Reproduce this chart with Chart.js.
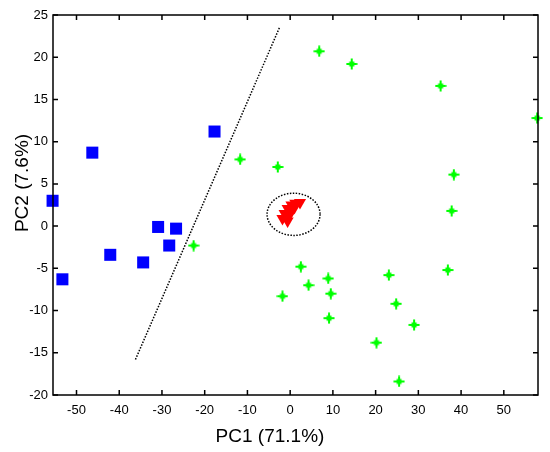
<!DOCTYPE html>
<html>
<head>
<meta charset="utf-8">
<script src="https://cdn.jsdelivr.net/npm/chart.js@4/dist/chart.umd.min.js"></script>
<style>
  html, body { margin: 0; padding: 0; background: #fff; }
  #wrap { width: 550px; height: 452px; }
</style>
</head>
<body>
<div id="wrap"><canvas id="pca"></canvas></div>
<script>
// tick labels
const xTicks = [-50, -40, -30, -20, -10, 0, 10, 20, 30, 40, 50];
const yTicks = [-20, -15, -10, -5, 0, 5, 10, 15, 20, 25];

// group 1 (blue squares)
const blueX = [-55.6, -46.3, -17.7, -53.3, -42.1, -34.4, -30.9, -26.7, -28.3];
const blueY = [3.0, 8.7, 11.2, -6.3, -3.4, -4.3, -0.1, -0.3, -2.3];

// group 2 (green stars)
const greenX = [-11.7, -2.9, -22.6, -1.8, 2.5, 6.8, 14.4, 35.2, 57.8, 38.3, 37.8,
                4.3, 8.9, 9.5, 9.1, 23.1, 24.8, 36.9, 29.0, 20.2, 25.5];
const greenY = [7.9, 7.0, -2.3, -8.3, -4.8, 20.7, 19.2, 16.6, 12.8, 6.1, 1.8,
                -7.0, -6.2, -8.0, -10.9, -5.8, -9.2, -5.2, -11.7, -13.8, -18.4];

// group 3 (red triangles)
const redX = [2.3, 1.2, 0.3, -0.6, -1.3, -1.8, -0.6, 0.4, 1.0, -0.2];
const redY = [2.8, 2.7, 2.5, 2.1, 1.5, 0.9, 0.6, 1.9, 2.2, 1.3];

// separating line
const lineX = [-36.2, -2.5];
const lineY = [-15.8, 23.5];

// circle around red group: centre and half-axes in data units
const ringCenter = [0.8, 1.4];
const ringRadius = [6.2, 2.5];

const toPts = (xs, ys) => xs.map((x, i) => ({ x: x, y: ys[i] }));

// green marker: bold plus with a thick centre
const starMark = document.createElement('canvas');
starMark.width = 12; starMark.height = 12;
(function () {
  const c = starMark.getContext('2d');
  c.fillStyle = '#00ff00';
  c.fillRect(5, 0.5, 2, 11);
  c.fillRect(0.5, 5, 11, 2);
  c.fillRect(3.5, 3.5, 5, 5);
})();

// box with inward ticks on all sides, dotted ellipse and axis titles
const frame = {
  id: 'frame',
  beforeDatasetsDraw(chart) {
    const { ctx, scales } = chart;
    const cx = scales.x.getPixelForValue(ringCenter[0]);
    const cy = scales.y.getPixelForValue(ringCenter[1]);
    const rx = Math.abs(scales.x.getPixelForValue(ringCenter[0] + ringRadius[0]) - cx);
    const ry = Math.abs(scales.y.getPixelForValue(ringCenter[1] + ringRadius[1]) - cy);
    ctx.save();
    ctx.strokeStyle = '#000';
    ctx.lineWidth = 1.5;
    ctx.setLineDash([1.5, 1.5]);
    ctx.beginPath();
    ctx.ellipse(cx, cy, rx, ry, 0, 0, Math.PI * 2);
    ctx.stroke();
    ctx.restore();
  },
  afterDraw(chart) {
    const { ctx, chartArea: a, scales } = chart;
    ctx.save();
    ctx.strokeStyle = '#000';
    ctx.lineWidth = 1.5;
    ctx.strokeRect(a.left, a.top, a.right - a.left, a.bottom - a.top);
    ctx.beginPath();
    xTicks.forEach(v => {
      const px = scales.x.getPixelForValue(v);
      ctx.moveTo(px, a.bottom); ctx.lineTo(px, a.bottom - 5);
      ctx.moveTo(px, a.top); ctx.lineTo(px, a.top + 5);
    });
    yTicks.forEach(v => {
      const py = scales.y.getPixelForValue(v);
      ctx.moveTo(a.left, py); ctx.lineTo(a.left + 5, py);
      ctx.moveTo(a.right, py); ctx.lineTo(a.right - 5, py);
    });
    ctx.stroke();

    ctx.fillStyle = '#000';
    ctx.font = '19px "Liberation Sans", Arial, sans-serif';
    ctx.textAlign = 'center';
    ctx.textBaseline = 'middle';
    ctx.fillText('PC1 (71.1%)', 270, 437);
    ctx.translate(23, 183);
    ctx.rotate(-Math.PI / 2);
    ctx.fillText('PC2 (7.6%)', 0, 0);
    ctx.restore();
  }
};

Chart.defaults.font.family = '"Liberation Sans", Arial, sans-serif';
Chart.defaults.color = '#000';

new Chart(document.getElementById('pca'), {
  type: 'scatter',
  data: {
    datasets: [
      {
        type: 'line',
        data: toPts(lineX, lineY),
        borderColor: '#000',
        borderWidth: 1.5,
        borderDash: [1.5, 1.5],
        pointRadius: 0,
        fill: false
      },
      {
        data: toPts(blueX, blueY),
        pointStyle: 'rect',
        pointRadius: 8.5,
        backgroundColor: '#0000ff',
        borderColor: '#0000ff',
        borderWidth: 0
      },
      {
        data: toPts(greenX, greenY),
        pointStyle: starMark,
        pointRadius: 6
      },
      {
        data: toPts(redX, redY),
        pointStyle: 'triangle',
        rotation: 180,
        pointRadius: 7,
        backgroundColor: '#ff0000',
        borderColor: '#ff0000',
        borderWidth: 0
      }
    ]
  },
  options: {
    responsive: true,
    maintainAspectRatio: false,
    animation: false,
    clip: false,
    layout: { padding: { top: 15, right: 12, left: 0, bottom: 0 } },
    plugins: { legend: { display: false }, tooltip: { enabled: false } },
    scales: {
      x: {
        type: 'linear',
        min: -55.5,
        max: 58,
        afterBuildTicks: s => { s.ticks = xTicks.map(v => ({ value: v })); },
        afterFit: s => { s.height = 57; },
        grid: { display: false, drawTicks: false },
        border: { display: false },
        ticks: { font: { size: 13 }, padding: 8 }
      },
      y: {
        type: 'linear',
        min: -20,
        max: 25,
        afterBuildTicks: s => { s.ticks = yTicks.map(v => ({ value: v })); },
        afterFit: s => { s.width = 53; },
        grid: { display: false, drawTicks: false },
        border: { display: false },
        ticks: { font: { size: 13 }, padding: 5 }
      }
    }
  },
  plugins: [frame]
});
</script>
</body>
</html>
